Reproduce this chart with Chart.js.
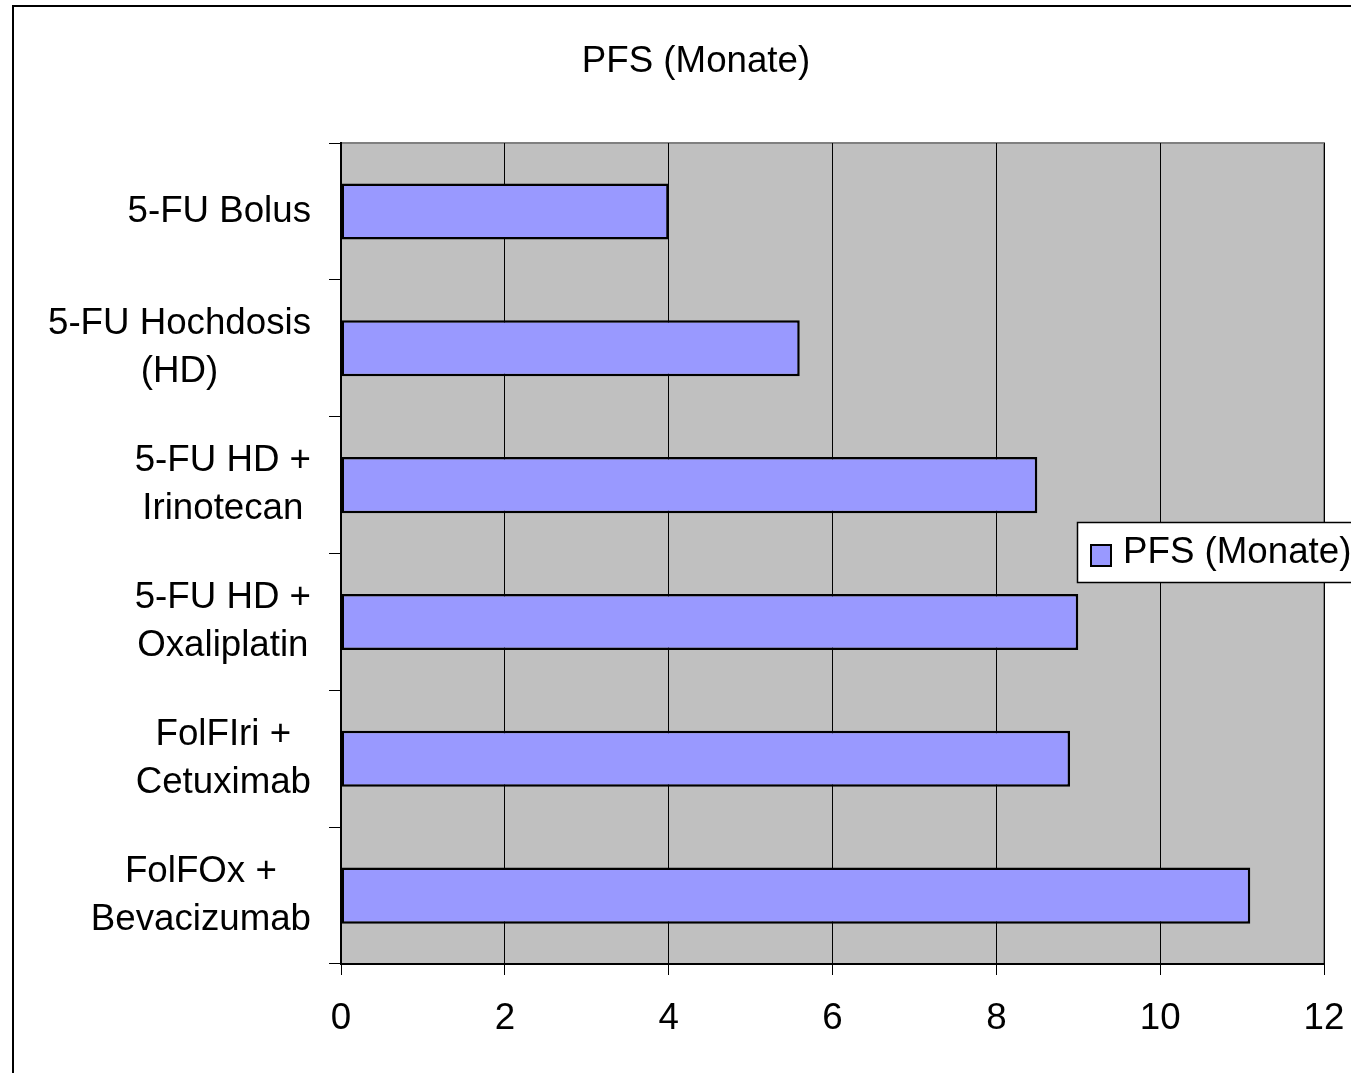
<!DOCTYPE html>
<html lang="de">
<head>
    <meta charset="UTF-8">
    <title>PFS (Monate)</title>
    <script src="https://cdn.jsdelivr.net/npm/chart.js"></script>
    <style>
        html, body { margin: 0; padding: 0; background: white; }
        #wrap { width: 1351px; height: 1073px; position: relative; }
    </style>
</head>
<body>
    <div id="wrap"><canvas id="pfsChart"></canvas></div>

    <script>
        // Daten
        const therapies = [
            ['5-FU Bolus'],
            ['5-FU Hochdosis', '(HD)'],
            ['5-FU HD +', 'Irinotecan'],
            ['5-FU HD +', 'Oxaliplatin'],
            ['FolFIri +', 'Cetuximab'],
            ['FolFOx +', 'Bevacizumab']
        ];
        const pfsMonths = [4.0, 5.6, 8.5, 9.0, 8.9, 11.1];
        const xTicks = [0, 2, 4, 6, 8, 10, 12];
        const seriesName = 'PFS (Monate)';

        const FONT = 'Arial, "Liberation Sans", sans-serif';
        const FSIZE = 36.7;

        // Rahmen + grauer Plotbereich
        const backgroundPlugin = {
            id: 'background',
            beforeDraw(chart) {
                const ctx = chart.ctx;
                const a = chart.chartArea;
                ctx.save();
                ctx.strokeStyle = '#000';
                ctx.lineWidth = 2;
                ctx.strokeRect(13, 6, 2000, 2000);
                ctx.fillStyle = '#C0C0C0';
                ctx.fillRect(a.left, a.top, a.right - a.left, a.bottom - a.top);
                ctx.strokeStyle = '#808080';
                ctx.lineWidth = 2;
                ctx.beginPath();
                ctx.moveTo(a.left, a.top);
                ctx.lineTo(a.right, a.top);
                ctx.lineTo(a.right, a.bottom);
                ctx.stroke();
                ctx.restore();
            }
        };

        // Kategorie-Beschriftung: Block rechtsbündig, Zeilen zentriert
        const yLabelPlugin = {
            id: 'yLabels',
            afterDraw(chart) {
                const ctx = chart.ctx;
                const y = chart.scales.y;
                const rightEdge = chart.chartArea.left - 30;
                const lineH = 48;
                ctx.save();
                ctx.font = FSIZE + 'px ' + FONT;
                ctx.fillStyle = '#000';
                ctx.textAlign = 'center';
                ctx.textBaseline = 'middle';
                therapies.forEach((lines, i) => {
                    const cy = y.getPixelForValue(i);
                    const w = Math.max(...lines.map(l => ctx.measureText(l).width));
                    const cx = rightEdge - w / 2;
                    const y0 = cy - (lines.length - 1) * lineH / 2;
                    lines.forEach((l, k) => ctx.fillText(l, cx, y0 + k * lineH));
                });
                ctx.restore();
            }
        };

        // Legende
        const legendPlugin = {
            id: 'boxLegend',
            afterDraw(chart) {
                const ctx = chart.ctx;
                ctx.save();
                ctx.fillStyle = '#fff';
                ctx.fillRect(1077, 522, 400, 60);
                ctx.strokeStyle = '#000';
                ctx.lineWidth = 1.5;
                ctx.strokeRect(1077.5, 522.5, 400, 60);
                ctx.fillStyle = '#9999FF';
                ctx.fillRect(1091, 545, 20, 21);
                ctx.lineWidth = 2;
                ctx.strokeRect(1091, 545, 20, 21);
                ctx.font = FSIZE + 'px ' + FONT;
                ctx.fillStyle = '#000';
                ctx.textAlign = 'left';
                ctx.textBaseline = 'middle';
                ctx.fillText(chart.data.datasets[0].label, 1123, 553);
                ctx.restore();
            }
        };

        new Chart(document.getElementById('pfsChart'), {
            type: 'bar',
            data: {
                labels: therapies,
                datasets: [{
                    label: seriesName,
                    data: pfsMonths,
                    backgroundColor: '#9999FF',
                    borderColor: '#000',
                    borderWidth: 2.5,
                    borderSkipped: false,
                    barPercentage: 0.41,
                    categoryPercentage: 1
                }]
            },
            options: {
                indexAxis: 'y',
                responsive: true,
                maintainAspectRatio: false,
                animation: false,
                layout: { padding: { left: 41, right: 0, top: 0, bottom: 0 } },
                plugins: {
                    legend: { display: false },
                    tooltip: { enabled: false },
                    title: {
                        display: true,
                        text: seriesName,
                        color: '#000',
                        font: { family: FONT, size: FSIZE, weight: 'normal', lineHeight: 1.2 },
                        padding: { top: 40, bottom: 59 }
                    }
                },
                scales: {
                    x: {
                        min: xTicks[0],
                        max: xTicks[xTicks.length - 1],
                        afterBuildTicks(scale) {
                            scale.ticks = xTicks.map(v => ({ value: v }));
                        },
                        afterFit(scale) {
                            scale.height = 109;
                            scale.paddingRight = 27;
                            scale.paddingLeft = 0;
                        },
                        ticks: {
                            color: '#000',
                            font: { family: FONT, size: FSIZE },
                            padding: 22,
                            maxRotation: 0
                        },
                        grid: {
                            color: '#000',
                            lineWidth: 1,
                            tickLength: 11,
                            tickColor: '#000'
                        },
                        border: { color: '#000', width: 2 }
                    },
                    y: {
                        afterFit(scale) { scale.width = 300; },
                        ticks: { display: false },
                        grid: {
                            offset: true,
                            drawOnChartArea: false,
                            tickLength: 12,
                            color: '#000'
                        },
                        border: { color: '#000', width: 2 }
                    }
                }
            },
            plugins: [backgroundPlugin, yLabelPlugin, legendPlugin]
        });
    </script>
</body>
</html>
